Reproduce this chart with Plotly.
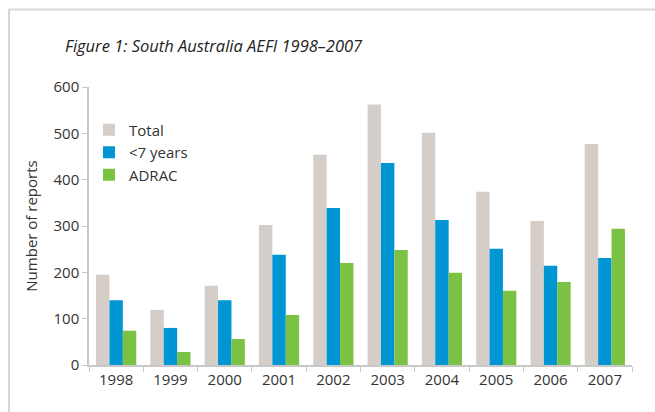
import plotly.graph_objects as go

years = ["1998", "1999", "2000", "2001", "2002", "2003", "2004", "2005", "2006", "2007"]
total = [195, 119, 171, 302, 454, 562, 501, 374, 311, 477]
under7 = [140, 80, 140, 238, 339, 436, 313, 251, 214, 231]
adrac = [74, 28, 56, 108, 220, 248, 199, 160, 179, 294]

y_ticks = [0, 100, 200, 300, 400, 500, 600]

FONT = "Open Sans"
TXT = "#333333"
AXIS = "#c8c8c8"

fig = go.Figure()
fig.add_trace(go.Bar(name="Total", x=years, y=total, marker_color="#d5cdc7", marker_line_width=0))
fig.add_trace(go.Bar(name="<7 years", x=years, y=under7, marker_color="#0095d3", marker_line_width=0))
fig.add_trace(go.Bar(name="ADRAC", x=years, y=adrac, marker_color="#7bc143", marker_line_width=0))

W, H = 655, 412
L, R, T, B = 89, 23, 87, 47
pw, ph = W - L - R, H - T - B

fig.update_layout(
    width=W, height=H,
    margin=dict(l=L, r=R, t=T, b=B, autoexpand=False),
    paper_bgcolor="white", plot_bgcolor="white",
    barmode="group", bargap=0.26, bargroupgap=0,
    font=dict(family=FONT, color=TXT, size=15),
    showlegend=True,
    legend=dict(x=0.0, y=0.905, xanchor="left", yanchor="top",
                bgcolor="rgba(0,0,0,0)", font=dict(size=15, color=TXT),
                itemwidth=30, tracegroupgap=0),
    xaxis=dict(showline=True, linecolor=AXIS, linewidth=1.5, ticks="outside",
               tickson="boundaries", ticklen=5, tickcolor=AXIS, showgrid=False,
               tickfont=dict(size=15, color=TXT), fixedrange=True),
    yaxis=dict(range=[0, 600], tickvals=y_ticks, showline=True, linecolor=AXIS,
               linewidth=1.5, ticks="outside", ticklen=5, tickcolor=AXIS,
               showgrid=False, zeroline=False, tickfont=dict(size=15, color=TXT),
               title=dict(text="Number of reports", font=dict(size=15, color=TXT), standoff=12),
               fixedrange=True),
    annotations=[dict(text="<i>Figure 1: South Australia AEFI 1998–2007</i>",
                      xref="paper", yref="paper",
                      x=(63 - L) / pw, y=1 + (T - 45) / ph,
                      xanchor="left", yanchor="middle", showarrow=False,
                      font=dict(size=16.5, color="#222222", family=FONT))],
    shapes=[
        dict(type="line", xref="paper", yref="paper",
             x0=(9 - L) / pw, x1=(W - L) / pw, y0=1 + (T - 9.5) / ph, y1=1 + (T - 9.5) / ph,
             line=dict(color="#d9d9d9", width=2)),
        dict(type="line", xref="paper", yref="paper",
             x0=(9 - L) / pw, x1=(9 - L) / pw, y0=1 + (T - 9) / ph, y1=-(B) / ph,
             line=dict(color="#c8c8c8", width=1.5)),
    ],
)

fig.write_html("out.html", config={"displayModeBar": False},
               post_script="document.body.style.margin='0';document.body.style.overflow='hidden';")
